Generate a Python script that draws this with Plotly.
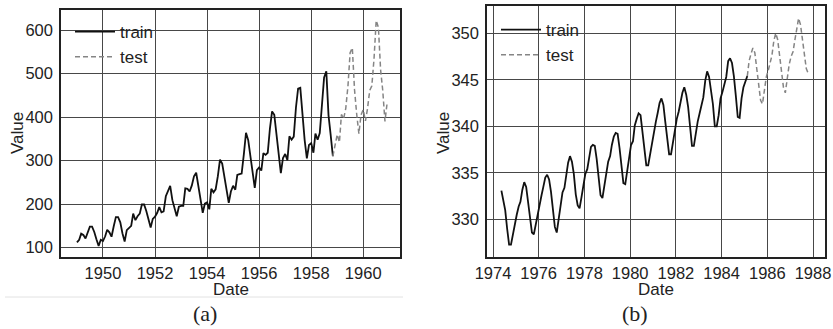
import plotly.graph_objects as go
import pandas as pd

# ---------------- data ----------------
# (a) monthly airline passengers, Jan 1949 - Dec 1960
air_start = "1949-01-01"
air_values = [
    112, 118, 132, 129, 121, 135, 148, 148, 136, 119, 104, 118,
    115, 126, 141, 135, 125, 149, 170, 170, 158, 133, 114, 140,
    145, 150, 178, 163, 172, 178, 199, 199, 184, 162, 146, 166,
    171, 180, 193, 181, 183, 218, 230, 242, 209, 191, 172, 194,
    196, 196, 236, 235, 229, 243, 264, 272, 237, 211, 180, 201,
    204, 188, 235, 227, 234, 264, 302, 293, 259, 229, 203, 229,
    242, 233, 267, 269, 270, 315, 364, 347, 312, 274, 237, 278,
    284, 277, 317, 313, 318, 374, 413, 405, 355, 306, 271, 306,
    315, 301, 356, 348, 355, 422, 465, 467, 404, 347, 305, 336,
    340, 318, 362, 348, 363, 435, 491, 505, 404, 359, 310, 337,
    360, 342, 406, 396, 420, 472, 548, 559, 463, 407, 362, 405,
    417, 391, 419, 461, 472, 535, 622, 606, 508, 461, 390, 432,
]
air_train_len = 119

# (b) monthly CO2 concentration, May 1974 - Oct 1987
co2_start = "1974-05-15"
co2_values = [
    333.1, 332.0, 331.0, 329.0, 327.3, 327.3, 328.5, 329.6,
    330.5, 331.4, 331.9, 333.2, 334.0, 333.5, 331.8, 330.0, 328.6, 328.4, 329.5, 330.8,
    331.7, 332.6, 333.5, 334.5, 334.8, 334.3, 333.0, 330.9, 329.2, 328.6, 330.2, 331.6,
    332.9, 333.4, 334.7, 336.1, 336.8, 336.2, 334.9, 332.7, 331.5, 331.2, 332.4, 333.8,
    334.9, 335.4, 336.6, 337.8, 338.0, 337.9, 336.5, 334.6, 332.6, 332.3, 333.9, 334.9,
    336.2, 336.8, 338.0, 338.9, 339.3, 339.2, 337.7, 336.0, 333.9, 333.8, 335.3, 336.7,
    338.0, 338.4, 340.1, 340.8, 341.4, 341.2, 339.5, 337.5, 335.8, 335.8, 337.1, 338.2,
    339.2, 340.5, 341.4, 342.5, 343.0, 342.3, 340.5, 338.4, 337.0, 337.0, 338.4, 339.6,
    340.8, 341.6, 342.7, 343.6, 344.2, 343.4, 342.1, 339.8, 337.9, 337.9, 339.3, 340.5,
    341.4, 342.5, 343.1, 344.9, 345.9, 345.3, 344.0, 342.4, 340.0, 340.0, 341.2, 343.0,
    343.7, 344.5, 345.3, 347.0, 347.3, 346.8, 345.4, 343.3, 341.0, 340.9, 343.0, 344.2,
    344.9, 345.4, 347.0, 347.8, 348.4, 347.9, 346.2, 344.3, 342.8, 342.4, 343.8, 345.3,
    346.0, 346.7, 347.6, 349.2, 350.0, 349.3, 347.6, 345.6, 344.2, 343.6, 345.3, 346.6,
    347.5, 348.0, 349.2, 350.6, 351.6, 350.9, 349.2, 347.6, 346.2, 345.7,
]
co2_train_len = 130

series_names = ["train", "test"]
x_label = "Date"
y_label = "Value"
captions = ["(a)", "(b)"]

# ---------------- figure ----------------
W, H = 833, 329
air_dates = pd.date_range(air_start, periods=len(air_values), freq="MS")
co2_dates = pd.date_range("1974-05-01", periods=len(co2_values), freq="MS") + pd.Timedelta(days=14)

TRAIN = dict(color="#111111", width=1.8)
TEST = dict(color="#858585", width=1.5, dash="5px,3px")

fig = go.Figure()


def add_pair(dates, values, ntrain, xa, ya, legend):
    fig.add_trace(go.Scatter(
        x=dates[:ntrain], y=values[:ntrain], mode="lines", name=series_names[0],
        line=TRAIN, xaxis=xa, yaxis=ya, legend=legend, legendgroup=legend + "a"))
    fig.add_trace(go.Scatter(
        x=dates[ntrain - 1:], y=values[ntrain - 1:], mode="lines", name=series_names[1],
        line=TEST, xaxis=xa, yaxis=ya, legend=legend, legendgroup=legend + "b"))


add_pair(air_dates, air_values, air_train_len, "x", "y", "legend")
add_pair(co2_dates, co2_values, co2_train_len, "x2", "y2", "legend2")

FONT = dict(family="Liberation Sans, Arial, sans-serif", size=17, color="#222222")
TICKFONT = dict(family="Liberation Sans, Arial, sans-serif", size=16.5, color="#222222")
GRID = "#484848"

common_x = dict(type="date", tickformat="%Y", dtick="M24", showgrid=True, gridcolor=GRID,
                gridwidth=1.2, showline=True, mirror=True, linecolor="#222222", linewidth=1.5,
                ticks="", tickfont=TICKFONT, zeroline=False, ticklabelstandoff=0,
                automargin=False, ticklabeloverflow="allow")
common_y = dict(showgrid=True, gridcolor=GRID, gridwidth=1.2, showline=True, mirror=True,
                linecolor="#222222", linewidth=1.5, ticks="", tickfont=TICKFONT, zeroline=False,
                ticklabelstandoff=3, automargin=False, ticklabeloverflow="allow")

fig.update_layout(
    width=W, height=H, margin=dict(l=0, r=0, t=0, b=0, autoexpand=False),
    paper_bgcolor="white", plot_bgcolor="white", font=FONT,
    xaxis=dict(common_x, domain=[61 / W, 400 / W], range=["1948-05-22", "1961-05-31"],
               tick0="1950-01-01", anchor="y"),
    yaxis=dict(common_y, domain=[1 - 257 / H, 1 - 10 / H], range=[78.4, 646], dtick=100,
               tick0=100, anchor="x"),
    xaxis2=dict(common_x, domain=[487 / W, 825 / W], range=["1973-09-27", "1988-07-10"],
                tick0="1974-01-01", anchor="y2"),
    yaxis2=dict(common_y, domain=[1 - 257 / H, 1 - 6 / H], range=[325.97, 352.92], dtick=5,
                tick0=330, anchor="x2"),
    legend=dict(x=70 / W, y=1 - 14 / H, xanchor="left", yanchor="top", bgcolor="rgba(0,0,0,0)",
                font=FONT, tracegroupgap=0, itemwidth=40),
    legend2=dict(x=496 / W, y=1 - 12 / H, xanchor="left", yanchor="top", bgcolor="rgba(0,0,0,0)",
                 font=FONT, tracegroupgap=0, itemwidth=40),
    showlegend=True,
)

ann = []
for cx, cy_title in [(230.5, 289), (656, 289)]:
    ann.append(dict(text=x_label, x=cx / W, y=1 - cy_title / H, xref="paper", yref="paper",
                    showarrow=False, font=FONT, xanchor="center", yanchor="middle"))
for cx in [17, 443]:
    ann.append(dict(text=y_label, x=cx / W, y=1 - 133 / H, xref="paper", yref="paper",
                    showarrow=False, font=FONT, textangle=-90, xanchor="center", yanchor="middle"))
for cx, cap in zip([205, 635], captions):
    ann.append(dict(text=cap, x=cx / W, y=1 - 313 / H, xref="paper", yref="paper",
                    showarrow=False, xanchor="center", yanchor="middle",
                    font=dict(family="Liberation Serif, Times New Roman, serif", size=22,
                              color="#222222")))
fig.update_layout(annotations=ann)

fig.add_shape(type="line", xref="paper", yref="paper", x0=5 / W, x1=403 / W,
              y0=1 - 297 / H, y1=1 - 297 / H, line=dict(color="#e2e2e2", width=1))

fig.write_html("out.html")
